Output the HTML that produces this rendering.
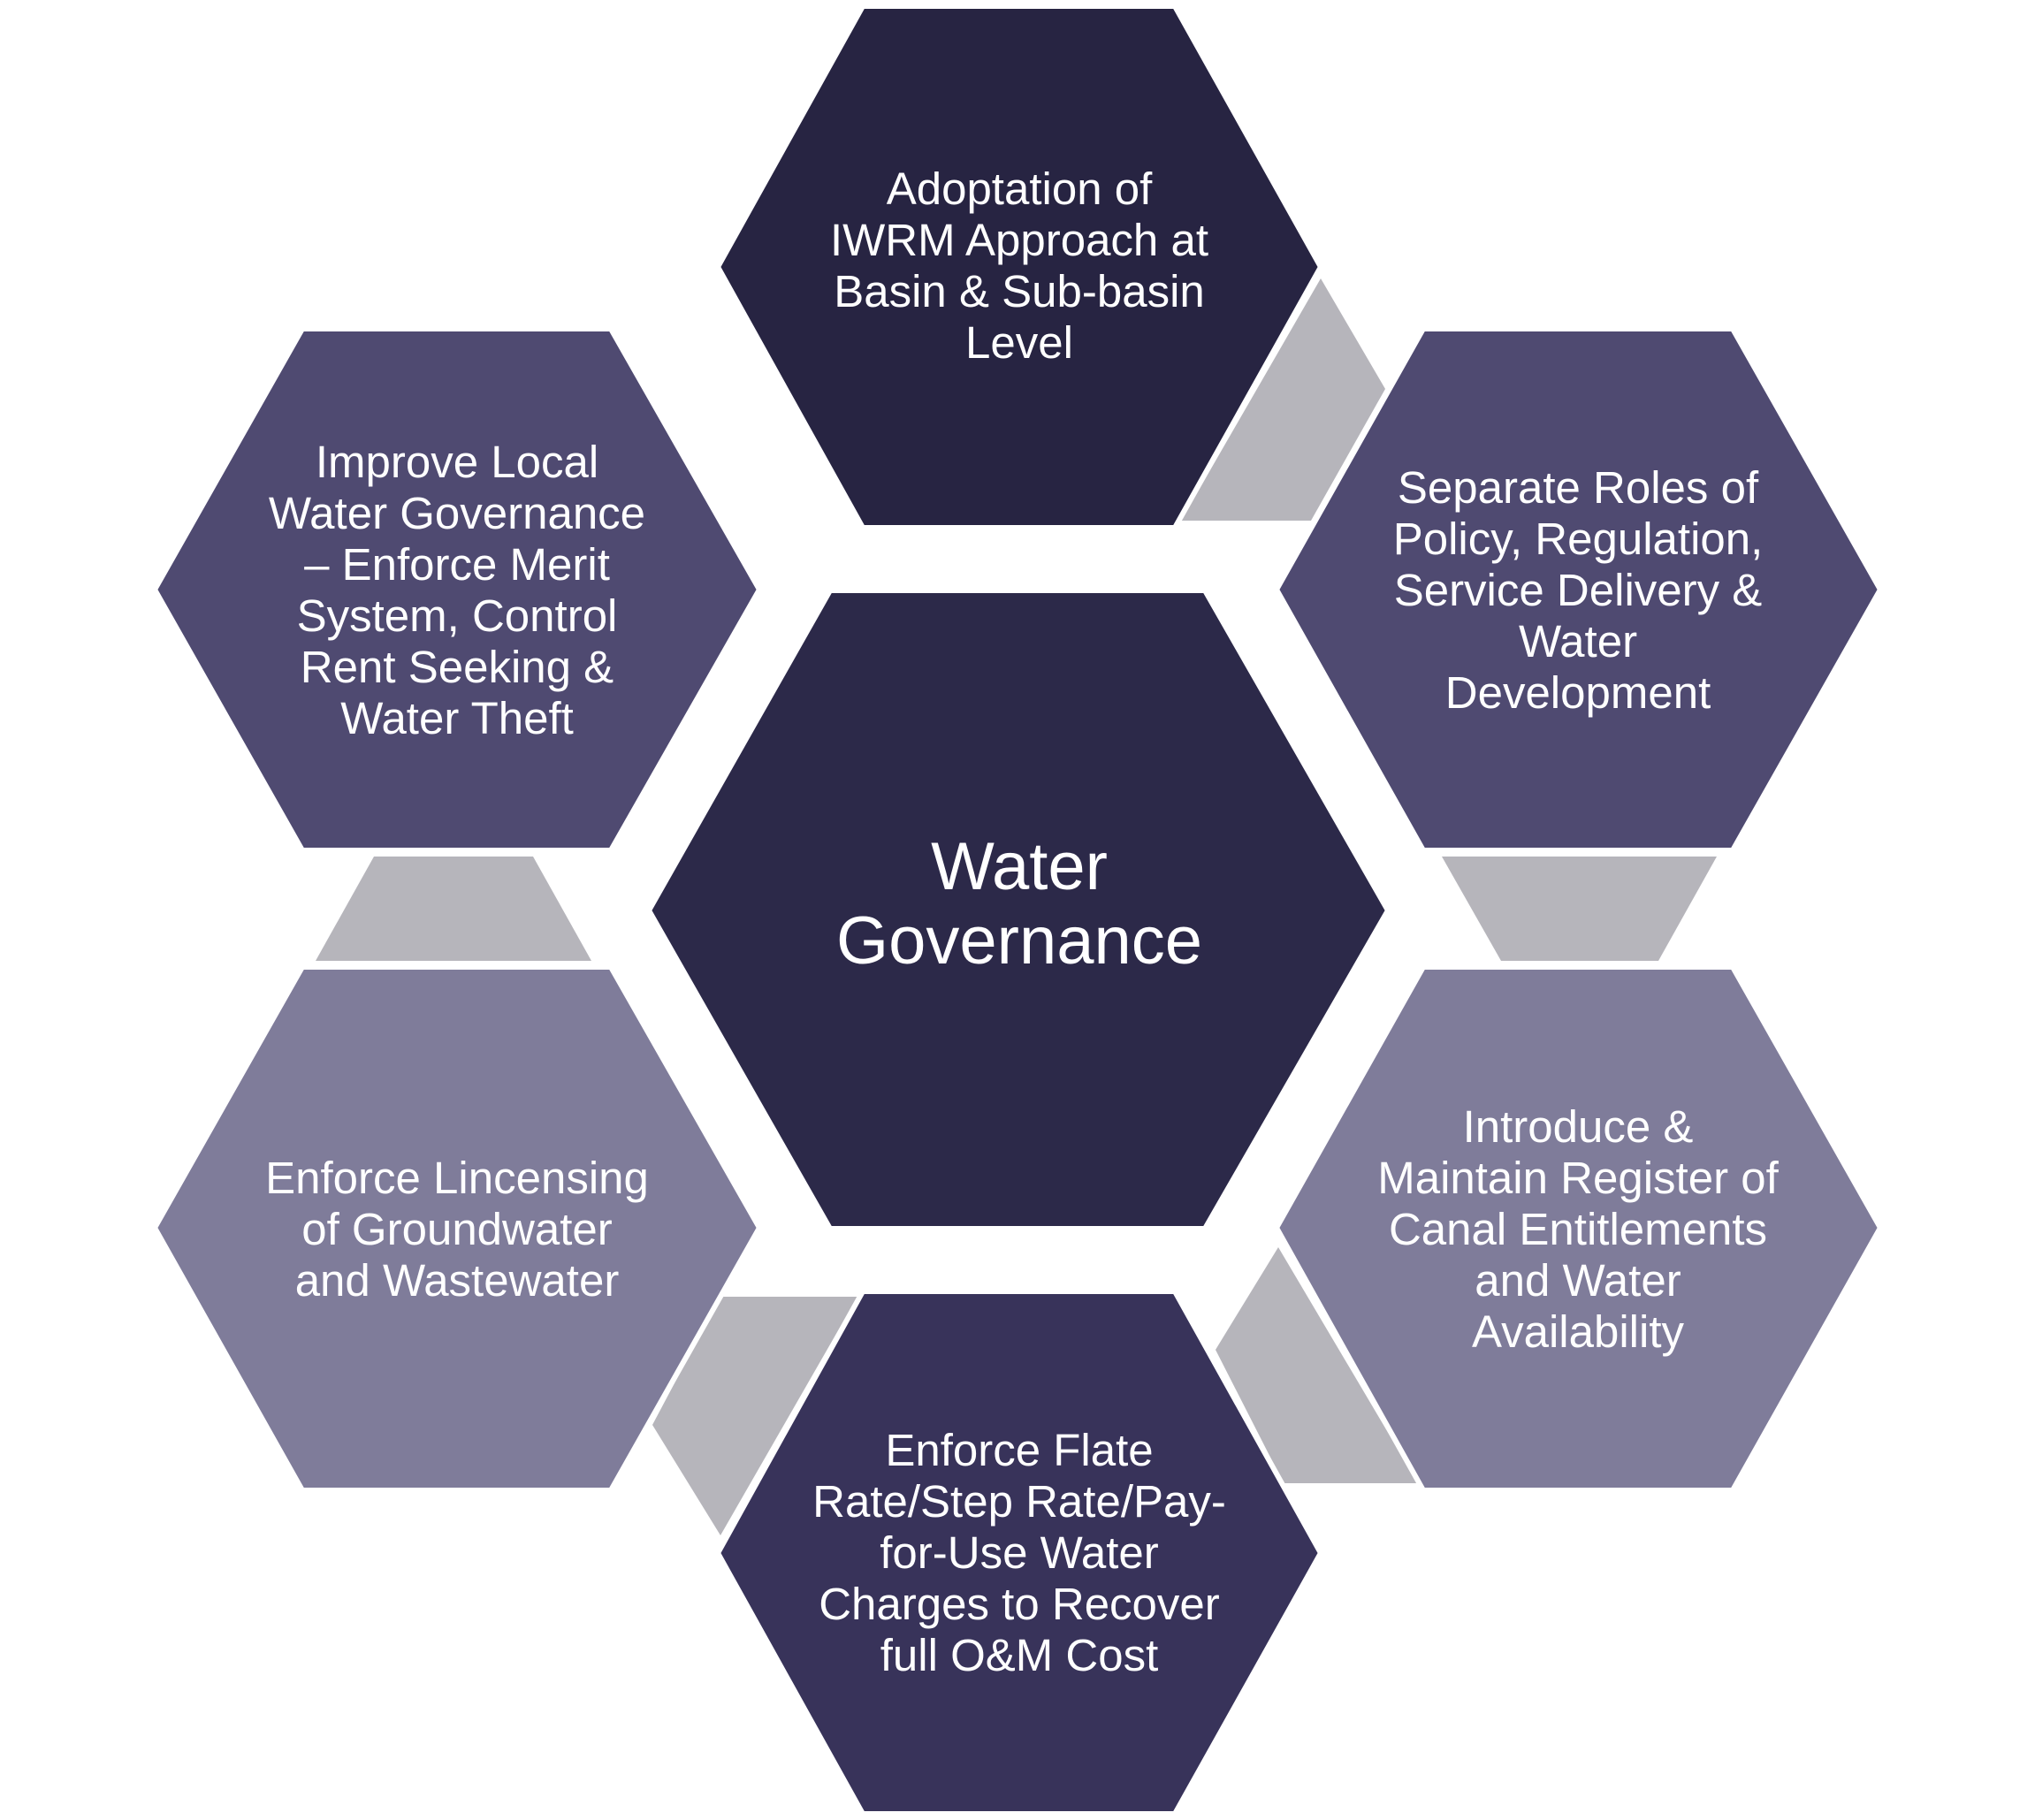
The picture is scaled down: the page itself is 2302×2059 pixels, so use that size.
<!DOCTYPE html>
<html><head><meta charset="utf-8"><style>
html,body{margin:0;padding:0;background:#fff;}
svg{display:block;}
text{font-family:"Liberation Sans",sans-serif;fill:#fff;text-anchor:middle;}
.s{font-size:51px;}
.b{font-size:76px;}
</style></head><body>
<svg width="2302" height="2059" viewBox="0 0 2302 2059" xmlns="http://www.w3.org/2000/svg">
<g fill="#b6b5bb">
<polygon points="1494,315 1567,440 1483,589 1336,589"/>
<polygon points="1631,969 1942,969 1876,1087 1698,1087"/>
<polygon points="1446,1411 1604,1678 1452,1678 1375,1527"/>
<polygon points="815,1467 970,1467 815,1737 738,1612"/>
<polygon points="423,969 603,969 669,1087 357,1087"/>
</g>
<g stroke="#fff" stroke-width="6">
<polygon fill="#272442" points="812,302 976,7 1329,7 1494,302 1329,597 976,597"/>
<polygon fill="#4f4a71" points="1444,667 1610,372 1960,372 2127,667 1960,962 1610,962"/>
<polygon fill="#4f4a71" points="175,667 342,372 691,372 859,667 691,962 342,962"/>
<polygon fill="#7f7c9a" points="175,1389 342,1094 691,1094 859,1389 691,1686 342,1686"/>
<polygon fill="#7f7c9a" points="1444,1389 1610,1094 1960,1094 2127,1389 1960,1686 1610,1686"/>
<polygon fill="#38335a" points="812,1757 976,1461 1329,1461 1494,1757 1329,2052 976,2052"/>
<polygon fill="#2c2949" points="734,1030 939,668 1363,668 1570,1030 1363,1390 939,1390"/>
</g>
<text class="b" x="1153" y="1006">Water</text>
<text class="b" x="1153" y="1090">Governance</text>

<text class="s" x="1153" y="231">Adoptation of</text>
<text class="s" x="1153" y="289">IWRM Approach at</text>
<text class="s" x="1153" y="347">Basin &amp; Sub-basin</text>
<text class="s" x="1153" y="405">Level</text>

<text class="s" x="1785" y="569">Separate Roles of</text>
<text class="s" x="1785" y="627">Policy, Regulation,</text>
<text class="s" x="1785" y="685">Service Delivery &amp;</text>
<text class="s" x="1785" y="743">Water</text>
<text class="s" x="1785" y="801">Development</text>

<text class="s" x="517" y="540">Improve Local</text>
<text class="s" x="517" y="598">Water Governance</text>
<text class="s" x="517" y="656">– Enforce Merit</text>
<text class="s" x="517" y="714">System,  Control</text>
<text class="s" x="517" y="772">Rent Seeking &amp;</text>
<text class="s" x="517" y="830">Water Theft</text>

<text class="s" x="517" y="1350">Enforce Lincensing</text>
<text class="s" x="517" y="1408">of Groundwater</text>
<text class="s" x="517" y="1466">and Wastewater</text>

<text class="s" x="1785" y="1292">Introduce &amp;</text>
<text class="s" x="1785" y="1350">Maintain Register of</text>
<text class="s" x="1785" y="1408">Canal Entitlements</text>
<text class="s" x="1785" y="1466">and Water</text>
<text class="s" x="1785" y="1524">Availability</text>

<text class="s" x="1153" y="1658">Enforce Flate</text>
<text class="s" x="1153" y="1716">Rate/Step Rate/Pay-</text>
<text class="s" x="1153" y="1774">for-Use Water</text>
<text class="s" x="1153" y="1832">Charges to Recover</text>
<text class="s" x="1153" y="1890">full O&amp;M Cost</text>
</svg>
</body></html>
